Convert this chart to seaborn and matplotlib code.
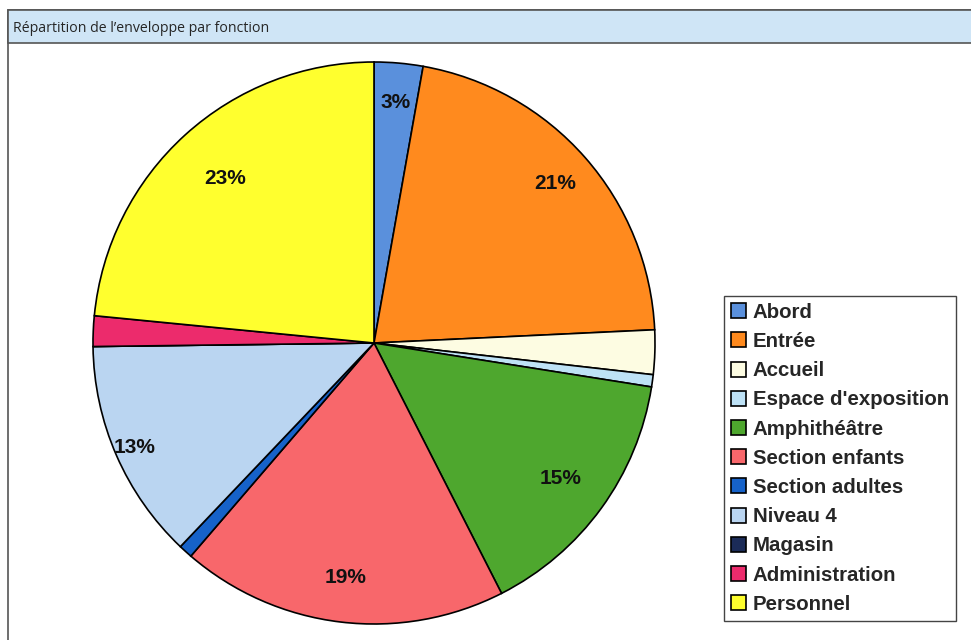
import seaborn as sns
import matplotlib.pyplot as plt
from matplotlib.patches import Rectangle

# =========================
# description: data (share of the budget, %)
# =========================

fonctions = ["Abord", "Entrée", "Accueil", "Espace d'exposition", "Amphithéâtre",
             "Section enfants", "Section adultes", "Niveau 4", "Magasin",
             "Administration", "Personnel"]
parts = [2.8, 21.45, 2.55, 0.7, 15.0, 18.8, 0.8, 12.7, 0.0, 1.75, 23.45]
couleurs = ["#5A90DC", "#FF8A1E", "#FDFCE2", "#BEE2F6", "#4EA72E",
            "#F8676B", "#1662C9", "#BAD5F1", "#1B2B57", "#EC2B6C", "#FFFF2E"]
# radial position of each percentage label (fraction of radius)
label_dist = [0.86, 0.86, 0.85, 0.85, 0.82, 0.84, 0.85, 0.93, 0.85, 0.85, 0.79]

sns.set_theme(style="white")
plt.rcParams["font.family"] = ["Liberation Sans", "DejaVu Sans"]

fig = plt.figure(figsize=(9.71, 6.40), dpi=100)

# frame + title bar
fig.patches.append(Rectangle((8 / 971, -0.05), 1.0, 1 - 10 / 640 + 0.05,
                             transform=fig.transFigure, facecolor="white",
                             edgecolor="#555555", linewidth=1.2, zorder=-2))
fig.patches.append(Rectangle((8 / 971, 1 - 43 / 640), 1.0, 33 / 640,
                             transform=fig.transFigure, facecolor="#CFE5F6",
                             edgecolor="#555555", linewidth=1.2, zorder=-1))
fig.text(13 / 971, 1 - 28 / 640, "Répartition de l\u2019enveloppe par fonction",
         fontsize=10.2, family=["Open Sans", "DejaVu Sans"], va="center", ha="left")

# =========================
# description: pie
# =========================

cx, cy, r = 374 / 971, 1 - 343 / 640, 281
ax = fig.add_axes([cx - r / 971, cy - r / 640, 2 * r / 971, 2 * r / 640])
ax.patch.set_alpha(0)


def pct_label(p):
    # only the larger slices carry a label
    return f"{p:.0f}%" if p >= 2.75 else ""


wedges, _, autotexts = ax.pie(
    parts,
    colors=couleurs,
    startangle=90,
    counterclock=False,
    autopct=pct_label,
    pctdistance=1.0,
    wedgeprops=dict(edgecolor="black", linewidth=1.2),
    textprops=dict(fontsize=15, fontweight="bold", color="#111111"),
)
for t, d in zip(autotexts, label_dist):
    x, y = t.get_position()
    t.set_position((x * d, y * d))

ax.set_xlim(-1, 1)
ax.set_ylim(-1, 1)
ax.set_aspect("equal")
ax.axis("off")

fig.legend(
    wedges, fonctions,
    loc="lower left",
    bbox_to_anchor=(724 / 971, 1 - 621 / 640),
    borderaxespad=0,
    prop=dict(size=14.7, weight="bold"),
    handlelength=0.75, handleheight=0.75, handletextpad=0.3,
    labelspacing=0.5, borderpad=0.35,
    frameon=True, fancybox=False, edgecolor="#444444", framealpha=1,
)

fig.savefig("out.png", dpi=100)
